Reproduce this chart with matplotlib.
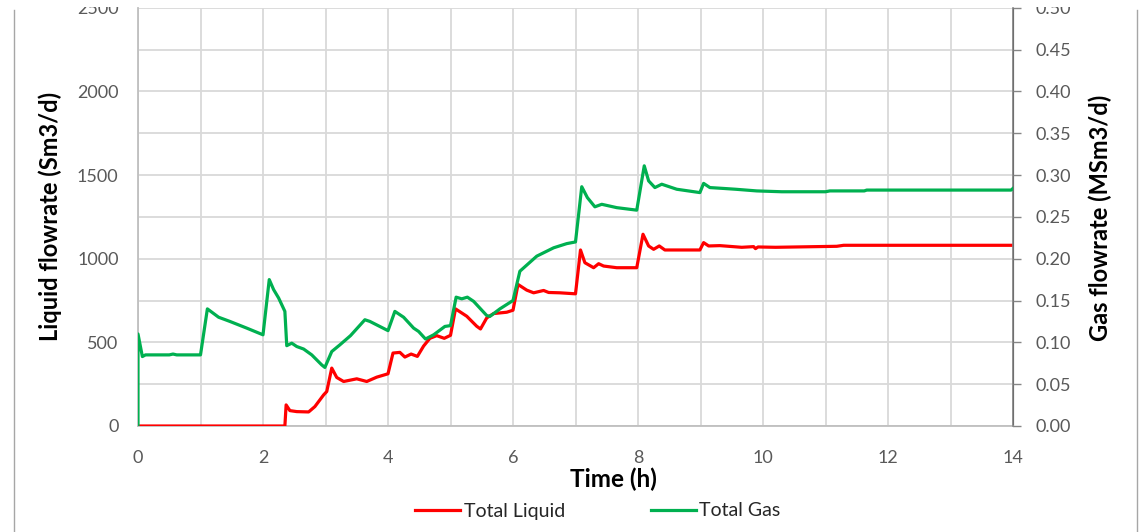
import matplotlib
matplotlib.use("Agg")
import matplotlib.pyplot as plt
from matplotlib.ticker import MultipleLocator, FormatStrFormatter
from matplotlib.lines import Line2D
from matplotlib.patches import Rectangle

plt.rcParams['font.family'] = ['Lato', 'DejaVu Sans']

# Total liquid flowrate (Sm3/d) over time (h)
liquid_time = [0, 2.35, 2.37, 2.43, 2.54, 2.73, 2.83, 2.97, 3.02, 3.10, 3.18, 3.29,
               3.50, 3.66, 3.82, 4.00, 4.08, 4.19, 4.27, 4.37, 4.47, 4.57, 4.67,
               4.78, 4.90, 5.00, 5.08, 5.26, 5.42, 5.48, 5.58, 5.69, 5.90, 6.00,
               6.08, 6.22, 6.33, 6.49, 6.57, 6.75, 7.00, 7.08, 7.15, 7.29, 7.37,
               7.45, 7.66, 7.98, 8.08, 8.17, 8.25, 8.34, 8.43, 8.99, 9.05, 9.13,
               9.31, 9.66, 9.85, 9.88, 9.92, 10.20, 11.18, 11.29, 14.0]
liquid_rate = [0, 0, 126, 92, 86, 84, 116, 186, 206, 346, 290, 266,
               282, 266, 292, 312, 436, 440, 412, 430, 416, 478, 524,
               540, 524, 542, 700, 656, 596, 580, 646, 672, 680, 692,
               846, 812, 796, 810, 798, 796, 790, 1052, 976, 946, 970,
               956, 946, 946, 1146, 1076, 1056, 1076, 1052, 1052, 1096, 1076,
               1078, 1068, 1072, 1060, 1070, 1068, 1074, 1080, 1080]

# Total gas flowrate (MSm3/d) over time (h)
gas_time = [0, 0.0, 0.07, 0.12, 0.50, 0.56, 0.62, 1.00, 1.11, 1.29, 1.47, 1.74,
            2.00, 2.10, 2.17, 2.25, 2.35, 2.38, 2.46, 2.54, 2.65, 2.78, 2.94,
            2.99, 3.10, 3.23, 3.40, 3.63, 3.71, 4.00, 4.11, 4.25, 4.41, 4.49,
            4.60, 4.73, 4.91, 5.00, 5.09, 5.18, 5.27, 5.37, 5.58, 5.63, 5.79,
            6.00, 6.11, 6.38, 6.65, 6.86, 7.00, 7.10, 7.19, 7.31, 7.42, 7.66,
            7.98, 8.10, 8.17, 8.27, 8.38, 8.62, 8.99, 9.05, 9.15, 9.36, 9.56,
            9.90, 10.30, 11.00, 11.07, 11.62, 11.66, 13.97, 14.0]
gas_rate = [0, 0.110, 0.083, 0.085, 0.085, 0.086, 0.085, 0.085, 0.140, 0.130, 0.125, 0.117,
            0.109, 0.175, 0.163, 0.153, 0.137, 0.096, 0.099, 0.095, 0.092, 0.085, 0.073,
            0.070, 0.089, 0.097, 0.108, 0.127, 0.125, 0.114, 0.137, 0.130, 0.117, 0.113,
            0.104, 0.109, 0.119, 0.120, 0.154, 0.152, 0.154, 0.149, 0.132, 0.131, 0.140,
            0.150, 0.185, 0.203, 0.213, 0.218, 0.220, 0.286, 0.273, 0.262, 0.265, 0.261,
            0.258, 0.311, 0.293, 0.285, 0.289, 0.283, 0.279, 0.290, 0.285, 0.284, 0.283,
            0.281, 0.280, 0.280, 0.281, 0.281, 0.282, 0.282, 0.284]

W, H = 1142, 532
fig = plt.figure(figsize=(W / 100, H / 100), dpi=100)

x0, x1 = 138, 1013
y_bottom, y_top = 426, 7.7
ax = fig.add_axes([x0 / W, 1 - y_bottom / H, (x1 - x0) / W, (y_bottom - y_top) / H])
ax2 = ax.twinx()

tick_color = '#595959'
grid_color = '#d9d9d9'

line_liq, = ax.plot(liquid_time, liquid_rate, color='#ff0000', lw=2.3, zorder=3,
                    solid_joinstyle='round')
line_gas, = ax2.plot(gas_time, gas_rate, color='#00b050', lw=2.3, zorder=3,
                     solid_joinstyle='round')

ax.set_xlim(0, 14)
ax.set_ylim(0, 2500)
ax2.set_ylim(0, 0.5)

ax.xaxis.set_major_locator(MultipleLocator(2))
ax.xaxis.set_minor_locator(MultipleLocator(1))
ax.yaxis.set_major_locator(MultipleLocator(500))
ax.yaxis.set_minor_locator(MultipleLocator(250))
ax2.yaxis.set_major_locator(MultipleLocator(0.05))
ax2.yaxis.set_major_formatter(FormatStrFormatter('%.2f'))

ax.grid(True, which='both', axis='both', color=grid_color, lw=1.3, zorder=0)
ax.set_axisbelow(True)
ax2.grid(False)

ax.tick_params(axis='both', which='both', length=0, labelsize=13,
               labelcolor=tick_color)
ax.tick_params(axis='x', pad=17)
ax.tick_params(axis='y', pad=14)
ax2.tick_params(axis='y', which='major', length=6, width=1, color='#868686',
                direction='out', labelsize=13, labelcolor=tick_color, pad=10)

for a in (ax, ax2):
    a.spines['top'].set_visible(False)
ax.spines['left'].set_color('#bfbfbf')
ax.spines['bottom'].set_color('#bfbfbf')
ax.spines['left'].set_linewidth(1.3)
ax.spines['bottom'].set_linewidth(1.3)
ax2.spines['left'].set_visible(False)
ax2.spines['bottom'].set_visible(False)
ax2.spines['right'].set_color('#868686')
ax2.spines['right'].set_linewidth(1.2)

fig.text(50 / W, 1 - 216 / H, 'Liquid flowrate (Sm3/d)', rotation=90,
         ha='center', va='center', fontsize=17, fontweight='bold', color='black')
fig.text(1100 / W, 1 - 218 / H, 'Gas flowrate (MSm3/d)', rotation=90,
         ha='center', va='center', fontsize=17, fontweight='bold', color='black')
fig.text(613 / W, 1 - 479 / H, 'Time (h)', ha='center', va='center',
         fontsize=17.5, fontweight='bold', color='black')

fig.legend([line_liq, line_gas], ['Total Liquid', 'Total Gas'],
           loc='center', bbox_to_anchor=(598 / W, 1 - 511 / H), ncol=2,
           frameon=False, fontsize=14, handlelength=2.3, handletextpad=0.2,
           columnspacing=4.4, labelcolor='#262626')

# chart area border
fig.add_artist(Line2D([14 / W, 14 / W], [0, 1 - 10 / H], color='#a6a6a6', lw=1))
fig.add_artist(Line2D([1137 / W, 1137 / W], [0, 1 - 10 / H], color='#a6a6a6', lw=1))
# clipped top edge
fig.add_artist(Rectangle((0, 1 - 7 / H), 1, 7 / H, transform=fig.transFigure,
                         facecolor='white', edgecolor='none', zorder=10))

fig.savefig('out.png', dpi=100)
